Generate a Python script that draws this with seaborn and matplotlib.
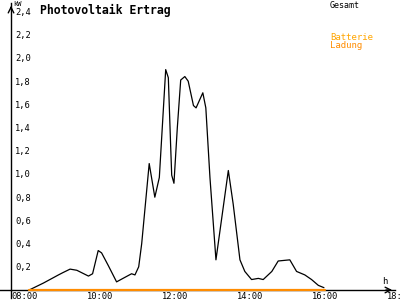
import matplotlib
matplotlib.use("Agg")
import matplotlib.pyplot as plt
import seaborn as sns
import pandas as pd
from matplotlib.transforms import ScaledTranslation

# Data
hours = [8.36, 8.74, 9.14, 9.26, 9.45, 9.63, 9.94, 10.05, 10.20, 10.29, 10.47, 10.69,
         10.86, 11.09, 11.18, 11.28, 11.36, 11.56, 11.71, 11.83, 12.00, 12.07, 12.13,
         12.16, 12.22, 12.31, 12.40, 12.51, 12.60, 12.74, 12.81, 12.99, 13.07, 13.18,
         13.34, 13.67, 13.80, 13.98, 14.11, 14.29, 14.47, 14.60, 14.83, 15.00, 15.31,
         15.49, 15.71, 15.89, 16.07, 16.22]
gesamt_kw = [0.00, 0.06, 0.13, 0.15, 0.18, 0.17, 0.12, 0.14, 0.34, 0.32, 0.21, 0.07,
             0.10, 0.14, 0.13, 0.20, 0.40, 1.09, 0.80, 0.97, 1.90, 1.83, 1.26,
             0.99, 0.92, 1.40, 1.81, 1.84, 1.80, 1.59, 1.57, 1.70, 1.57, 0.97,
             0.26, 1.03, 0.74, 0.26, 0.16, 0.09, 0.10, 0.09, 0.16, 0.25, 0.26,
             0.16, 0.13, 0.09, 0.04, 0.02]
batterie_hours = [8.36, 16.25]
batterie_kw = [0.0, 0.0]

x_ticks = [8, 10, 12, 14, 16, 18]
x_labels = ["08:00", "10:00", "12:00", "14:00", "16:00", "18:00"]
y_ticks = [0.2, 0.4, 0.6, 0.8, 1.0, 1.2, 1.4, 1.6, 1.8, 2.0, 2.2, 2.4]
y_labels = ["0,2", "0,4", "0,6", "0,8", "1,0", "1,2", "1,4", "1,6", "1,8", "2,0", "2,2", "2,4"]

sns.set_style("white")
plt.rcParams['font.family'] = ['DejaVu Sans Mono', 'DejaVu Sans']

fig = plt.figure(figsize=(4, 3), dpi=100)
ax = fig.add_axes([0, 2/300, 395/400, 295/300])

df = pd.DataFrame({"h": hours, "kw": gesamt_kw})
dfb = pd.DataFrame({"h": batterie_hours, "kw": batterie_kw})
sns.lineplot(data=df, x="h", y="kw", ax=ax, color="black", lw=0.9)
sns.lineplot(data=dfb, x="h", y="kw", ax=ax, color="#FF8C00", lw=1.6, zorder=5)

ax.set_xlim(7.581, 18.115)
ax.set_ylim(-0.069, 2.474)
ax.set_xlabel("")
ax.set_ylabel("")

for s in ["top", "right"]:
    ax.spines[s].set_visible(False)
ax.spines["left"].set_position(("data", 7.875))
ax.spines["bottom"].set_position(("data", 0))
ax.spines["left"].set_bounds(-0.069, 2.474)
for s in ["left", "bottom"]:
    ax.spines[s].set_color("black")
    ax.spines[s].set_linewidth(1.0)

ax.set_xticks(x_ticks)
ax.set_xticklabels(x_labels, fontsize=6.3, ha="left", va="top")
ax.set_yticks(y_ticks)
ax.set_yticklabels(y_labels, fontsize=6.3, ha="left")
ax.tick_params(axis="both", direction="inout", length=4.3, width=1, colors="black")
ax.tick_params(axis="y", pad=-5.0)
ax.tick_params(axis="x", pad=-0.7)
for lab in ax.get_xticklabels():
    lab.set_transform(lab.get_transform() + ScaledTranslation(-4/100, 0, fig.dpi_scale_trans))

# axis arrows
ax.annotate("", xy=(1.0, 0), xycoords=("axes fraction", "data"),
            xytext=(0.97, 0), textcoords=("axes fraction", "data"),
            arrowprops=dict(arrowstyle="->", color="black", lw=1.0), annotation_clip=False)
ax.annotate("", xy=(7.875, 2.474), xycoords="data",
            xytext=(7.875, 2.40), textcoords="data",
            arrowprops=dict(arrowstyle="->", color="black", lw=1.0), annotation_clip=False)

fig.text(40/400, 1 - 10/300, "Photovoltaik Ertrag", fontsize=8.3, fontweight="bold",
         ha="left", va="center", color="black")
fig.text(13/400, 1 - 4/300, "kW", fontsize=5, ha="left", va="center", color="black")
fig.text(385/400, 1 - 281/300, "h", fontsize=6.5, ha="center", va="center", color="black")
fig.text(330/400, 1 - 5/300, "Gesamt", fontsize=6, ha="left", va="center", color="black")
fig.text(330/400, 1 - 37/300, "Batterie", fontsize=6.5, ha="left", va="center", color="#FFA500")
fig.text(330/400, 1 - 45/300, "Ladung", fontsize=6.5, ha="left", va="center", color="#FF8C00")

fig.savefig("out.png", dpi=100)
